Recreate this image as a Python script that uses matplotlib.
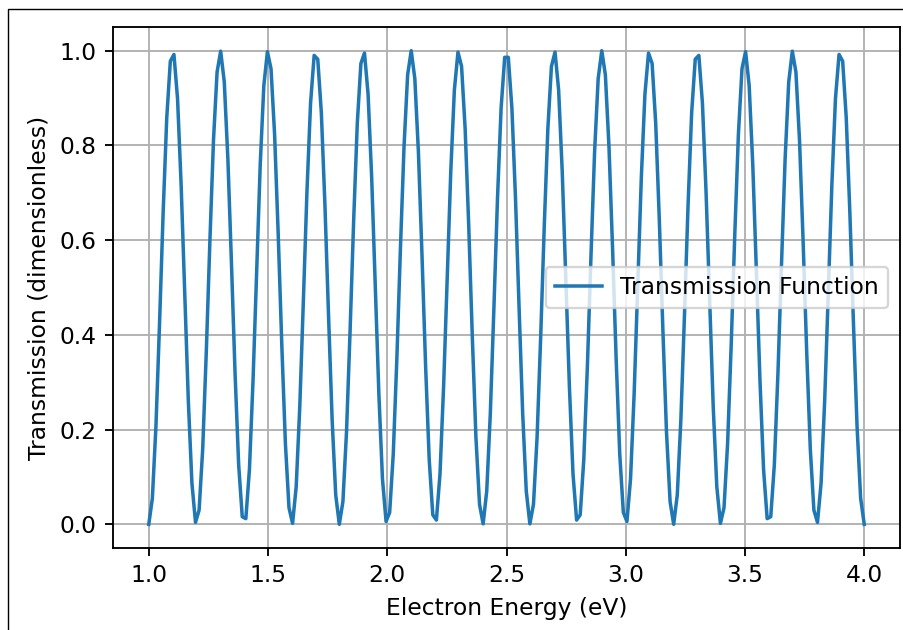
import numpy as np
import matplotlib
matplotlib.use("Agg")
import matplotlib.pyplot as plt
from matplotlib.patches import Rectangle

# energia (eV), 200 pontos de 1 a 4
energy = np.linspace(1.0, 4.0, 200)

# transmissao
transmission = [
    0.000, 0.055, 0.208, 0.425, 0.659, 0.858, 0.978, 0.992, 0.899, 0.717,
    0.488, 0.261, 0.087, 0.004, 0.030, 0.159, 0.364, 0.598, 0.811, 0.955,
    0.999, 0.934, 0.772, 0.551, 0.319, 0.126, 0.016, 0.012, 0.116, 0.304,
    0.535, 0.759, 0.926, 0.998, 0.962, 0.823, 0.613, 0.379, 0.171, 0.035,
    0.002, 0.079, 0.248, 0.472, 0.703, 0.889, 0.990, 0.982, 0.869, 0.674,
    0.441, 0.221, 0.062, 0.000, 0.048, 0.195, 0.410, 0.644, 0.847, 0.973,
    0.995, 0.908, 0.732, 0.504, 0.275, 0.096, 0.006, 0.025, 0.148, 0.349,
    0.583, 0.798, 0.949, 1.000, 0.941, 0.786, 0.567, 0.334, 0.137, 0.020,
    0.009, 0.106, 0.290, 0.520, 0.745, 0.917, 0.997, 0.967, 0.835, 0.629,
    0.394, 0.183, 0.042, 0.001, 0.070, 0.234, 0.457, 0.689, 0.879, 0.986,
    0.986, 0.879, 0.689, 0.457, 0.234, 0.070, 0.001, 0.042, 0.183, 0.394,
    0.629, 0.835, 0.967, 0.997, 0.917, 0.745, 0.520, 0.290, 0.106, 0.009,
    0.020, 0.137, 0.334, 0.567, 0.786, 0.941, 1.000, 0.949, 0.798, 0.583,
    0.349, 0.148, 0.025, 0.006, 0.096, 0.275, 0.504, 0.732, 0.908, 0.995,
    0.973, 0.847, 0.644, 0.410, 0.195, 0.048, 0.000, 0.062, 0.221, 0.441,
    0.674, 0.869, 0.982, 0.990, 0.889, 0.703, 0.472, 0.248, 0.079, 0.002,
    0.035, 0.171, 0.379, 0.613, 0.823, 0.962, 0.998, 0.926, 0.759, 0.535,
    0.304, 0.116, 0.012, 0.016, 0.126, 0.319, 0.551, 0.772, 0.934, 0.999,
    0.955, 0.811, 0.598, 0.364, 0.159, 0.030, 0.004, 0.087, 0.261, 0.488,
    0.717, 0.899, 0.992, 0.978, 0.858, 0.659, 0.425, 0.208, 0.055, 0.000,
]

dpi = 168
fig = plt.figure(figsize=(903 / dpi, 630 / dpi), dpi=dpi)
ax = fig.add_axes([113 / 903, 1 - 548 / 630, 787 / 903, 521 / 630])

ax.plot(energy, transmission, label="Transmission Function")
ax.set_xlabel("Electron Energy (eV)")
ax.set_ylabel("Transmission (dimensionless)")
ax.grid(True)
ax.legend(loc="center right")

# moldura preta do print
fig.patches.append(Rectangle((8 / 903, -0.1), 2, 1.1 - 9.5 / 630,
                             transform=fig.transFigure, fill=False,
                             edgecolor="black", linewidth=0.6))

fig.savefig("out.png", dpi=dpi)
